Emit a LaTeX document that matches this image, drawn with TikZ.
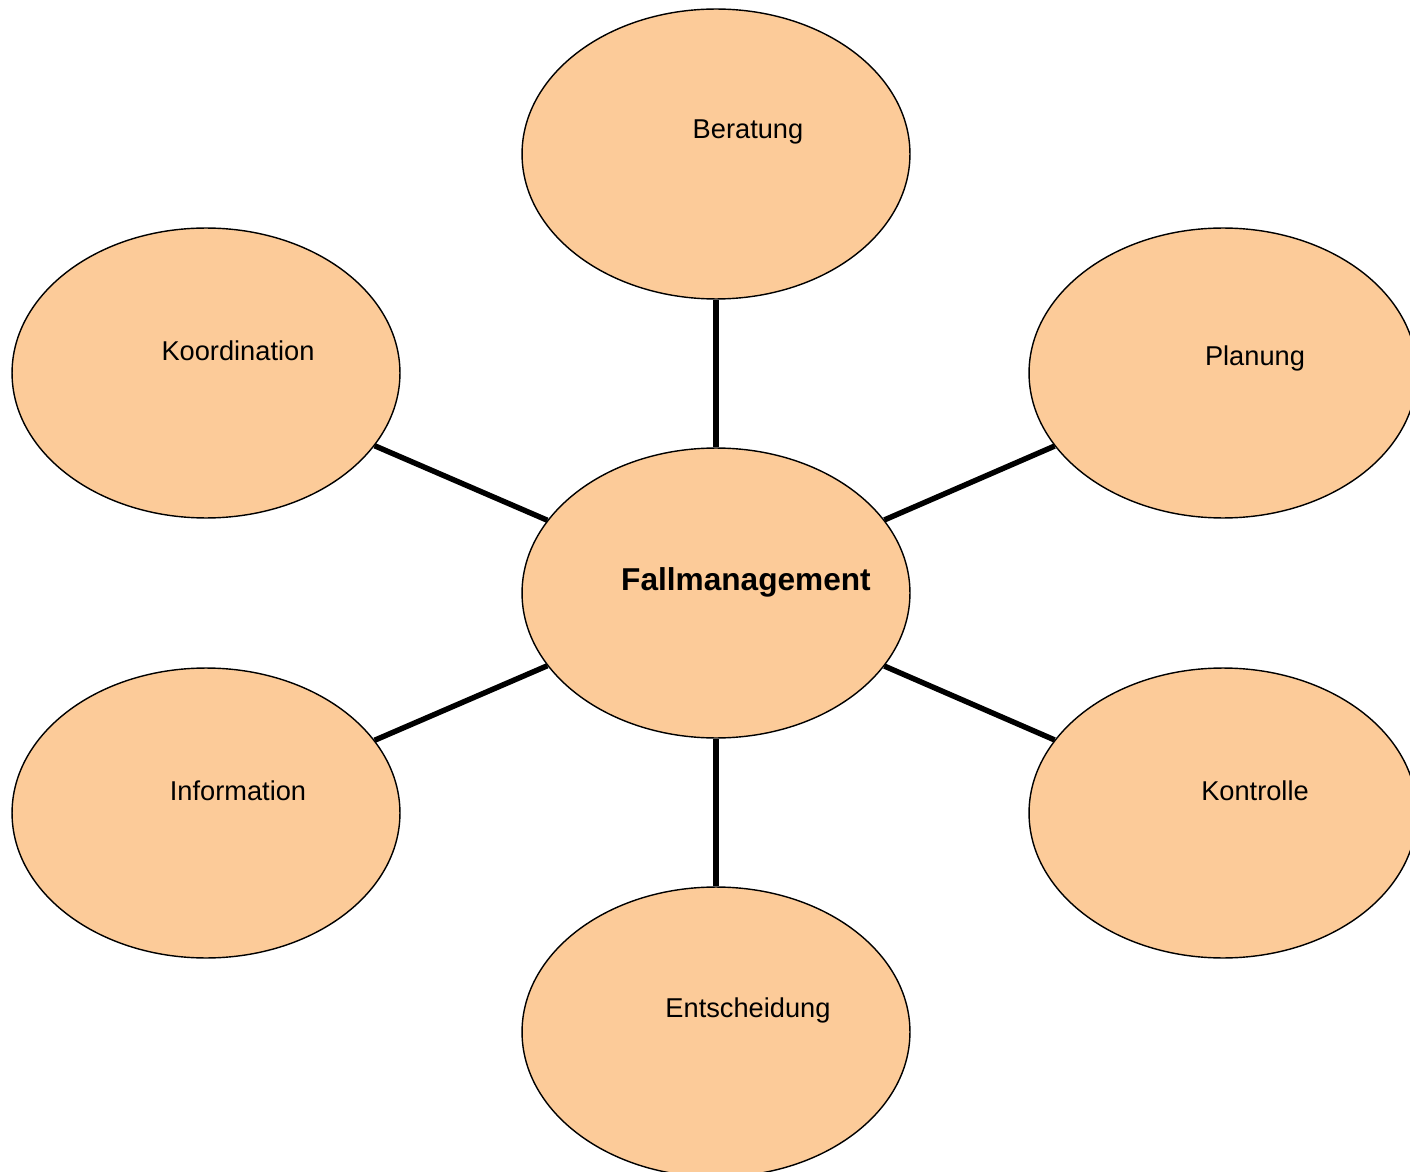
\documentclass[tikz,border=0pt]{standalone}
\usepackage{fontspec}
\setmainfont{Liberation Sans}
\usepackage{tikz}
\usetikzlibrary{shapes.geometric}
\definecolor{peach}{RGB}{252,203,153}

\begin{document}
\begin{tikzpicture}[x=0.02cm, y=-0.02cm,
		blob/.style={ellipse, draw=black, line width=0.8pt, fill=peach,
			minimum width=7.76cm, minimum height=5.8cm, inner sep=0pt},
		word/.style={label={[xshift=0.64cm, yshift=0.44cm, font=\fontsize{15.5}{17}\selectfont]center:#1}},
		spoke/.style={black, line width=3.1pt}]
		\useasboundingbox (0,0) rectangle (1410,1172);
		\node[blob, label={[xshift=0.6cm, yshift=0.22cm, font=\fontsize{18}{20}\selectfont\bfseries]center:Fallmanagement}] (fall) at (716,593) {};
		\node[blob, word=Beratung] (beratung) at (716,154) {};
		\node[blob, word=Koordination] (koord) at (206,373) {};
		\node[blob, label={[xshift=0.64cm, yshift=0.3cm, font=\fontsize{15.5}{17}\selectfont]center:Planung}] (planung) at (1223,373) {};
		\node[blob, word=Information] (info) at (206,813) {};
		\node[blob, word=Kontrolle] (kontrolle) at (1223,813) {};
		\node[blob, word=Entscheidung] (entsch) at (716,1032) {};
		\draw[spoke] (beratung) -- (fall);
		\draw[spoke] (koord) -- (fall);
		\draw[spoke] (planung) -- (fall);
		\draw[spoke] (info) -- (fall);
		\draw[spoke] (kontrolle) -- (fall);
		\draw[spoke] (entsch) -- (fall);
\end{tikzpicture}
\end{document}
